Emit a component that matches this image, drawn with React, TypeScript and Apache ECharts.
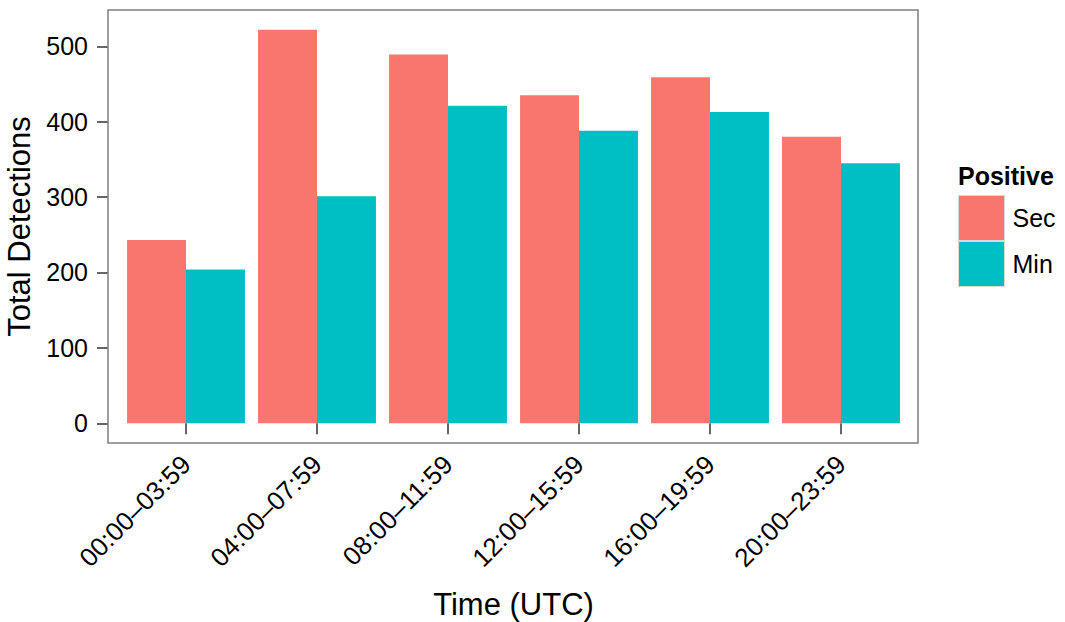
import React, { useEffect, useRef } from "react";
import * as echarts from "echarts";

const categories = ["00:00–03:59", "04:00–07:59", "08:00–11:59", "12:00–15:59", "16:00–19:59", "20:00–23:59"];
const secValues = [243, 522, 489, 435, 459, 380];
const minValues = [204, 301, 421, 388, 413, 345];
const yTicks = [0, 100, 200, 300, 400, 500];

const FONT = "Liberation Sans";

export default function App() {
  const ref = useRef<HTMLDivElement>(null);
  useEffect(() => {
    if (!ref.current) return;
    const chart = echarts.init(ref.current, undefined, { renderer: "svg" });
    chart.setOption({
      animation: false,
      backgroundColor: "#ffffff",
      textStyle: { fontFamily: FONT },
      grid: { left: 120.5, top: 10, width: 786, height: 433, outerBoundsMode: "none", containLabel: false },
      xAxis: {
        type: "category",
        data: categories,
        name: "Time (UTC)",
        nameLocation: "middle",
        nameGap: 146,
        nameTextStyle: { fontSize: 31, color: "#000", fontFamily: FONT },
        axisLine: { show: false },
        axisTick: { show: true, alignWithLabel: true, length: 11, lineStyle: { color: "#333", width: 1.5 } },
        axisLabel: { rotate: 45, fontSize: 26, color: "#000", margin: 17, fontFamily: FONT },
        splitLine: { show: false },
      },
      yAxis: {
        type: "value",
        min: -26.1,
        max: 548.1,
        offset: 12.5,
        name: "Total Detections",
        nameLocation: "middle",
        nameGap: 69,
        nameRotate: 90,
        nameTextStyle: { fontSize: 31, color: "#000", fontFamily: FONT },
        axisLine: { show: false },
        axisTick: { show: true, length: 11, customValues: yTicks, lineStyle: { color: "#333", width: 1.5 } },
        axisLabel: { fontSize: 25, color: "#000", margin: 20, customValues: yTicks, fontFamily: FONT },
        splitLine: { show: false },
      },
      legend: {
        orient: "vertical",
        left: 958,
        top: 195,
        padding: 0,
        itemWidth: 46,
        itemHeight: 45,
        itemGap: 0,
        icon: "rect",
        textStyle: { fontSize: 25, color: "#000", fontFamily: FONT, padding: [0, 0, 0, 3] },
        itemStyle: { borderColor: "#d9d9d9", borderWidth: 1 },
        data: ["Sec", "Min"],
      },
      graphic: [
        {
          type: "rect",
          shape: { x: 108, y: 10, width: 810, height: 433 },
          style: { fill: "none", stroke: "#7f7f7f", lineWidth: 1.5 },
          silent: true,
          z: 10,
        },
        {
          type: "text",
          left: 958,
          top: 163,
          style: { text: "Positive", fontSize: 25, fontWeight: "bold", fill: "#000", fontFamily: FONT },
        },
      ],
      series: [
        {
          name: "Sec",
          type: "bar",
          data: secValues,
          barGap: "0%",
          barCategoryGap: "10%",
          itemStyle: { color: "#F8766D" },
        },
        {
          name: "Min",
          type: "bar",
          data: minValues,
          barGap: "0%",
          barCategoryGap: "10%",
          itemStyle: { color: "#00BFC4" },
        },
      ],
    });
    return () => chart.dispose();
  }, []);
  return <div ref={ref} style={{ position: "fixed", left: 0, top: 0, width: 1065, height: 622 }} />;
}
